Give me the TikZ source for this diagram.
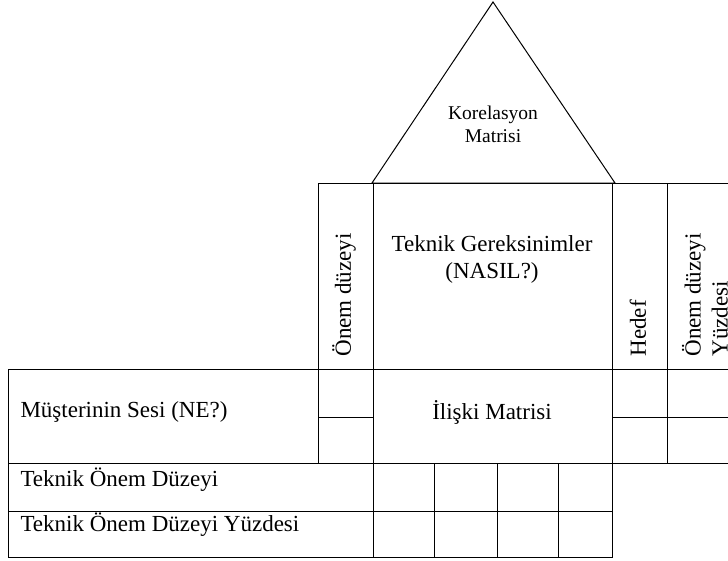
\documentclass[tikz,border=0pt]{standalone}
\usepackage{fontspec}
\setmainfont{Liberation Serif}
\tikzset{
	cell/.style={font=\fontsize{23}{27}\selectfont, inner sep=0pt},
	kor/.style={font=\fontsize{19.5}{23}\selectfont, inner sep=0pt, align=center}
}
\begin{document}
\begin{tikzpicture}[x=1pt, y=-1pt, line width=1pt]
			\useasboundingbox (0,0) rectangle (728,560);
			\clip (0,0) rectangle (728,560);
			\draw (372,183) -- (493,2) -- (615,183) -- cycle;
			\draw (318,183) rectangle (740,369);
			\foreach \x in {373,612,667}{
				\draw (\x,183) -- (\x,369);
			}
			\draw (8,369) rectangle (740,463);
			\foreach \x\y in {318/463,373/557,612/557,667/463}{
				\draw (\x,369) -- (\x,\y);
			}
			\draw (318,417) -- (373,417);
			\draw (612,417) -- (740,417);
			\draw (8,463) rectangle (612,557);
			\draw (8,511) -- (612,511);
			\foreach \x in {434,497,558}{
				\draw (\x,463) -- (\x,557);
			}
			\node[kor] (korelasyon) at (493,124) {Korelasyon\\Matrisi};
			\node[cell, align=center] (teknik) at (492,259) {Teknik Gereksinimler\\(NASIL?)};
			\node[cell] (iliski) at (492,412) {İlişki Matrisi};
			\node[cell, anchor=west] (musteri) at (20,412) {Müşterinin Sesi (NE?)};
			\node[cell, anchor=west] (onemduzeyi) at (20,480) {Teknik Önem Düzeyi};
			\node[cell, anchor=west] (onemyuzde) at (20,525) {Teknik Önem Düzeyi Yüzdesi};
			\node[cell, rotate=90, anchor=west] (onem) at (344,357) {Önem düzeyi};
			\node[cell, rotate=90, anchor=west] (hedef) at (638,357) {Hedef};
			\node[cell, rotate=90, anchor=west, align=left] (yuzde) at (705,357) {Önem düzeyi\\Yüzdesi};
		\end{tikzpicture}
\end{document}
